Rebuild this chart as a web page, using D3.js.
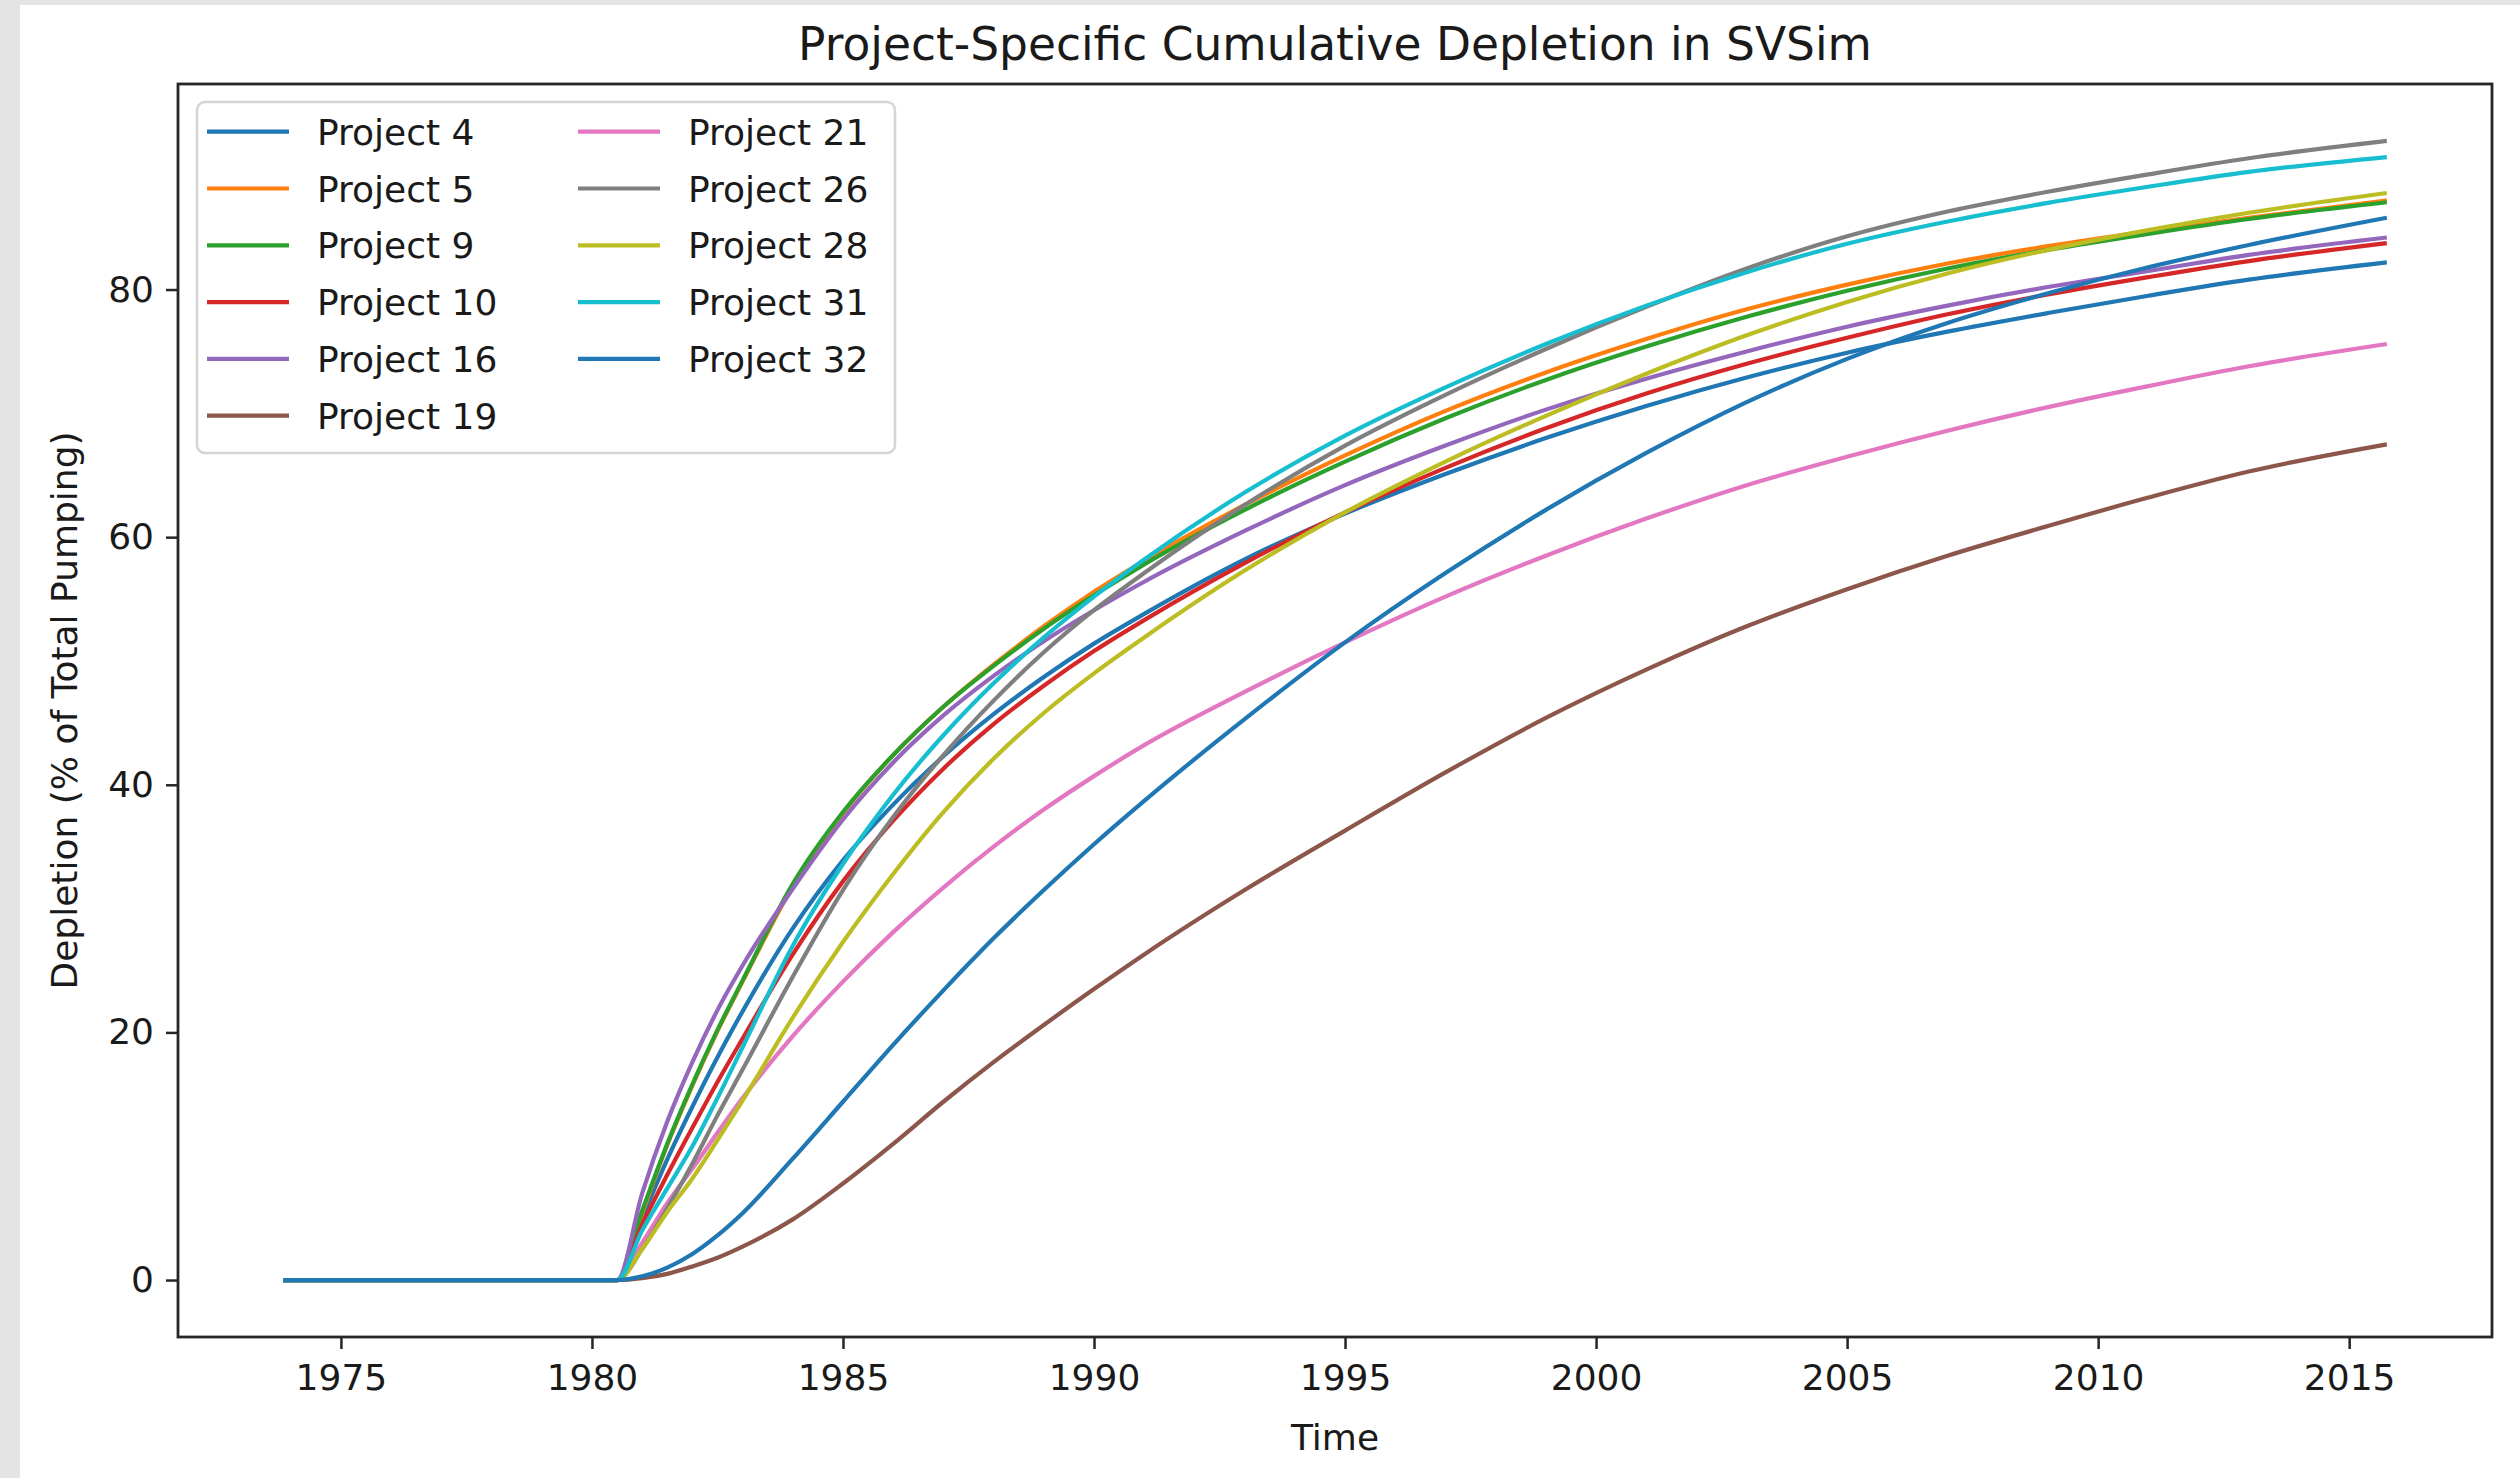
<!DOCTYPE html>
<html>
<head>
<meta charset="utf-8">
<script src="https://cdn.jsdelivr.net/npm/d3@7"></script>
<style>
  html, body { margin: 0; padding: 0; background: #ffffff; }
  svg { display: block; }
  text { font-family: "DejaVu Sans", sans-serif; fill: #1a1a1a; }
</style>
</head>
<body>
<svg id="chart" width="2520" height="1478"></svg>
<script>
// ---------------- data ----------------
const times = [1973.85, 1980.5, 1981, 1981.5, 1982, 1982.5, 1983, 1984, 1985, 1986, 1987, 1988, 1989, 1990, 1991, 1993, 1995, 1997, 1999, 2001, 2003, 2005, 2007, 2009, 2011, 2013, 2015.75];

const project4  = [0, 0, 5.0, 9.75, 14.0, 18.0, 21.7, 28.4, 33.9, 38.4, 42.3, 45.7, 48.7, 51.4, 53.8, 58.2, 61.9, 65.1, 68.0, 70.6, 72.9, 74.9, 76.6, 78.1, 79.5, 80.8, 82.2];
const project5  = [0, 0, 5.4, 10.9, 15.7, 20.1, 24.1, 31.8, 37.7, 42.4, 46.3, 49.7, 52.8, 55.6, 58.1, 62.6, 66.6, 70.2, 73.3, 76.0, 78.4, 80.4, 82.1, 83.5, 84.7, 85.8, 87.2];
const project9  = [0, 0, 5.6, 11.0, 15.8, 20.2, 24.2, 32.0, 37.8, 42.4, 46.3, 49.6, 52.6, 55.3, 57.8, 62.2, 66.1, 69.6, 72.7, 75.4, 77.8, 79.9, 81.7, 83.2, 84.5, 85.7, 87.05];
const project10 = [0, 0, 4.5, 8.5, 12.3, 16.0, 19.5, 26.3, 32.2, 37.1, 41.3, 44.9, 48.0, 50.8, 53.3, 57.9, 62.0, 65.6, 68.8, 71.6, 74.0, 76.1, 78.0, 79.6, 81.0, 82.3, 83.75];
const project16 = [0, 0, 7.0, 12.8, 17.6, 21.8, 25.4, 31.6, 37.2, 41.8, 45.6, 48.8, 51.6, 54.1, 56.4, 60.5, 64.2, 67.4, 70.3, 72.8, 75.0, 77.0, 78.7, 80.2, 81.5, 82.8, 84.2];
const project19 = [0, 0, 0.15, 0.5, 1.1, 1.8, 2.7, 4.9, 7.8, 11.0, 14.4, 17.6, 20.6, 23.5, 26.3, 31.5, 36.3, 41.0, 45.4, 49.3, 52.8, 55.8, 58.5, 60.9, 63.2, 65.3, 67.5];
const project21 = [0, 0, 3.0, 6.2, 9.0, 11.9, 14.7, 19.7, 24.1, 28.1, 31.7, 35.0, 38.0, 40.7, 43.2, 47.5, 51.5, 55.2, 58.5, 61.5, 64.2, 66.5, 68.6, 70.5, 72.2, 73.8, 75.6];
const project26 = [0, 0, 2.5, 5.8, 9.4, 13.3, 17.0, 24.5, 31.5, 37.4, 42.4, 46.8, 50.7, 54.1, 57.1, 62.6, 67.4, 71.5, 75.2, 78.6, 81.7, 84.3, 86.3, 87.9, 89.3, 90.6, 92.0];
const project28 = [0, 0, 2.5, 5.5, 8.2, 11.3, 14.5, 21.2, 27.3, 32.8, 37.8, 42.1, 45.8, 49.0, 51.9, 57.3, 62.0, 66.1, 69.8, 73.2, 76.3, 79.0, 81.3, 83.2, 84.8, 86.2, 87.8];
const project31 = [0, 0, 4.0, 7.4, 10.8, 14.7, 18.8, 27.0, 33.6, 39.2, 44.0, 48.2, 51.9, 55.2, 58.2, 63.6, 68.2, 72.1, 75.6, 78.7, 81.4, 83.7, 85.5, 87.0, 88.3, 89.5, 90.7];
const project32 = [0, 0, 0.3, 1.0, 2.1, 3.6, 5.4, 9.8, 14.4, 19.0, 23.4, 27.6, 31.5, 35.2, 38.7, 45.3, 51.5, 57.1, 62.2, 66.8, 70.9, 74.4, 77.3, 79.7, 81.8, 83.6, 85.8];

const seriesNames = ["Project 4", "Project 5", "Project 9", "Project 10", "Project 16", "Project 19",
                     "Project 21", "Project 26", "Project 28", "Project 31", "Project 32"];
const seriesValues = [project4, project5, project9, project10, project16, project19,
                      project21, project26, project28, project31, project32];
const colors = ["#1f77b4", "#ff7f0e", "#2ca02c", "#d62728", "#9467bd", "#8c564b",
                "#e377c2", "#7f7f7f", "#bcbd22", "#17becf", "#1f77b4"];

const xTicks = [1975, 1980, 1985, 1990, 1995, 2000, 2005, 2010, 2015];
const yTicks = [0, 20, 40, 60, 80];

const titleText = "Project-Specific Cumulative Depletion in SVSim";
const xLabel = "Time";
const yLabel = "Depletion (% of Total Pumping)";

// ---------------- layout ----------------
const W = 2520, H = 1478;
const ax = { left: 178, right: 2492, top: 84, bottom: 1337 };

const svg = d3.select("#chart");
svg.append("rect").attr("x", 0).attr("y", 0).attr("width", W).attr("height", H).attr("fill", "#ffffff");
// screenshot border strips
svg.append("rect").attr("x", 0).attr("y", 0).attr("width", W).attr("height", 5).attr("fill", "#e4e4e4");
svg.append("rect").attr("x", 0).attr("y", 0).attr("width", 20).attr("height", H).attr("fill", "#e4e4e4");

// matplotlib-like 5% margins
const xExt = d3.extent(times);
const xPad = (xExt[1] - xExt[0]) * 0.05;
const allVals = seriesValues.flat();
const yExt = [d3.min(allVals), d3.max(allVals)];
const yPad = (yExt[1] - yExt[0]) * 0.05;

const x = d3.scaleLinear().domain([xExt[0] - xPad, xExt[1] + xPad]).range([ax.left, ax.right]);
const y = d3.scaleLinear().domain([yExt[0] - yPad, yExt[1] + yPad]).range([ax.bottom, ax.top]);

// lines
const line = d3.line()
  .x(d => x(d[0]))
  .y(d => y(d[1]))
  .curve(d3.curveMonotoneX);

const plot = svg.append("g");
seriesValues.forEach((vals, i) => {
  const pts = times.map((t, j) => [t, vals[j]]);
  plot.append("path")
    .datum(pts)
    .attr("d", line)
    .attr("fill", "none")
    .attr("stroke", colors[i])
    .attr("stroke-width", 4.2)
    .attr("stroke-linejoin", "round");
});

// axes
const fs = 36;
const xAxis = d3.axisBottom(x).tickValues(xTicks).tickFormat(d3.format("d")).tickSize(12).tickPadding(15);
const yAxis = d3.axisLeft(y).tickValues(yTicks).tickFormat(d3.format("d")).tickSize(12).tickPadding(12);

const gx = svg.append("g").attr("transform", `translate(0,${ax.bottom})`).call(xAxis);
const gy = svg.append("g").attr("transform", `translate(${ax.left},0)`).call(yAxis);
[gx, gy].forEach(g => {
  g.select(".domain").remove();
  g.selectAll(".tick line").attr("stroke", "#262626").attr("stroke-width", 2.5);
  g.selectAll(".tick text").attr("font-size", fs).attr("font-family", "DejaVu Sans").attr("fill", "#1a1a1a");
});

// frame (spines)
svg.append("rect")
  .attr("x", ax.left).attr("y", ax.top)
  .attr("width", ax.right - ax.left).attr("height", ax.bottom - ax.top)
  .attr("fill", "none").attr("stroke", "#262626").attr("stroke-width", 2.8);

// title and axis labels
svg.append("text")
  .attr("x", (ax.left + ax.right) / 2).attr("y", 60)
  .attr("text-anchor", "middle").attr("font-size", 45.5)
  .text(titleText);

svg.append("text")
  .attr("x", (ax.left + ax.right) / 2).attr("y", 1450)
  .attr("text-anchor", "middle").attr("font-size", fs)
  .text(xLabel);

svg.append("text")
  .attr("transform", `translate(77,${(ax.top + ax.bottom) / 2}) rotate(-90)`)
  .attr("text-anchor", "middle").attr("font-size", fs)
  .text(yLabel);

// legend
const leg = svg.append("g");
leg.append("rect")
  .attr("x", 197).attr("y", 102).attr("width", 698).attr("height", 351)
  .attr("rx", 8).attr("ry", 8)
  .attr("fill", "#ffffff").attr("fill-opacity", 0.8)
  .attr("stroke", "#d4d4d4").attr("stroke-width", 2.5);

const rowsPerCol = 6;
const colX = [207, 578];
const handleLen = 82;
const textGap = 28;
const row0 = 131.7, rowStep = 56.8;
seriesNames.forEach((name, i) => {
  const col = Math.floor(i / rowsPerCol);
  const row = i % rowsPerCol;
  const yy = row0 + row * rowStep;
  const x0 = colX[col];
  leg.append("line")
    .attr("x1", x0).attr("x2", x0 + handleLen)
    .attr("y1", yy).attr("y2", yy)
    .attr("stroke", colors[i]).attr("stroke-width", 4.2);
  leg.append("text")
    .attr("x", x0 + handleLen + textGap).attr("y", yy + 13)
    .attr("font-size", fs)
    .text(name);
});
</script>
</body>
</html>
